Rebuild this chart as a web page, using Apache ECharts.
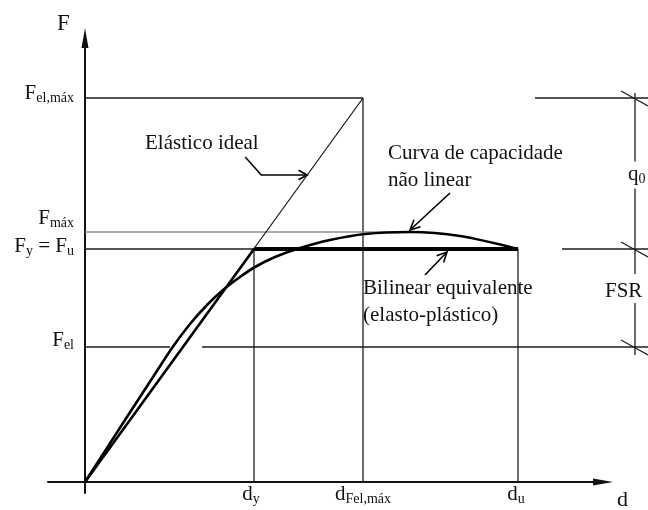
<!DOCTYPE html>
<html>
<head>
<meta charset="utf-8">
<script src="https://cdn.jsdelivr.net/npm/echarts@6/dist/echarts.min.js"></script>
<style>
  html, body { margin: 0; padding: 0; background: #fff; }
  #chart { width: 648px; height: 510px; }
</style>
</head>
<body>
<div id="chart"></div>
<script>
// Force levels on the F axis
const forceKeys   = ['Fel', 'Fy', 'Fmax', 'FelMax'];
const forceValues = [135, 233, 250, 384];
const forceLabels = ['{m|F}{s|el}', '{m|F}{s|y}{m| = F}{s|u}', '{m|F}{s|máx}', '{m|F}{s|el,máx}'];

// Displacement levels on the d axis
const dispKeys   = ['dy', 'dFelMax', 'du'];
const dispValues = [169, 278, 433];
const dispLabels = ['{m|d}{s|y}', '{m|d}{s|Fel,máx}', '{m|d}{s|u}'];

// Nonlinear capacity curve (d, F)
const curveDisp  = [0, 40, 70, 87, 105, 122, 138, 155, 170, 190, 215, 245, 280, 325, 375, 433];
const curveForce = [0, 62, 108, 134, 158, 177, 192, 205, 215, 225, 234, 242, 248, 250, 246, 233];

// Gap left in the F_el line where the two curves cross it
const felGap = [85, 117];
// Force level at which the "Elástico ideal" pointer touches its line
const elasticPointerF = 307;
// Displacement at which the "Bilinear" pointer touches the plateau
const bilinearPointerD = 362;

const F = Object.fromEntries(forceKeys.map((k, i) => [k, forceValues[i]]));
const D = Object.fromEntries(dispKeys.map((k, i) => [k, dispValues[i]]));
const peakIdx = curveForce.indexOf(Math.max(...curveForce));
const dPeak = curveDisp[peakIdx];

const SERIF = '"Liberation Serif", "DejaVu Serif", serif';
const INK = '#111';
const thin = { color: '#1c1c1c', width: 1.3 };

function seg(name, pts, lineStyle, z) {
  return { type: 'line', name, data: pts, symbol: 'none', lineStyle, silent: true,
           animation: false, z: z || 2, clip: false };
}

const chart = echarts.init(document.getElementById('chart'), null, { renderer: 'canvas' });

chart.setOption({
  backgroundColor: '#fff',
  animation: false,
  grid: { left: 48, right: 45, top: 38, bottom: 17 },
  xAxis: {
    type: 'value', min: -37, max: 518,
    axisLine: { onZero: true, symbol: ['none', 'triangle'], symbolSize: [7, 20],
                lineStyle: { color: INK, width: 2 } },
    axisTick: { show: false }, axisLabel: { show: false }, splitLine: { show: false }
  },
  yAxis: {
    type: 'value', min: -11, max: 444,
    axisLine: { onZero: true, symbol: ['none', 'triangle'], symbolSize: [7, 20],
                lineStyle: { color: INK, width: 2 } },
    axisTick: { show: false }, axisLabel: { show: false }, splitLine: { show: false }
  },
  series: [
    seg('FelMax level', [[0, F.FelMax], [D.dFelMax, F.FelMax]], thin),
    seg('dFelMax', [[D.dFelMax, 0], [D.dFelMax, F.FelMax]], thin),
    seg('Fmax level', [[0, F.Fmax], [dPeak, F.Fmax]], { color: '#8c8c8c', width: 1.7 }),
    seg('Fy level', [[0, F.Fy], [D.du, F.Fy]], thin),
    seg('dy', [[D.dy, 0], [D.dy, F.Fy]], thin),
    seg('du', [[D.du, 0], [D.du, F.Fy]], thin),
    seg('Fel level', [[0, F.Fel], [felGap[0], F.Fel]], thin),
    seg('Elástico ideal', [[0, 0], [D.dFelMax, F.FelMax]], { color: INK, width: 1.2 }, 3),
    seg('Bilinear equivalente', [[0, 0], [D.dy, F.Fy]], { color: '#000', width: 2.6 }, 4),
    seg('Patamar', [[D.dy, F.Fy], [D.du, F.Fy]], { color: '#000', width: 4 }, 4),
    {
      type: 'line', name: 'Curva de capacidade', smooth: 0.3, symbol: 'none',
      data: curveDisp.map((d, i) => [d, curveForce[i]]),
      lineStyle: { color: '#000', width: 2.6 }, silent: true, animation: false, z: 5
    }
  ]
});

const px = (d, f) => chart.convertToPixel({ gridIndex: 0 }, [d, f]);
const W = chart.getWidth();

const rich = {
  m: { fontSize: 21, fontFamily: SERIF, lineHeight: 24, fill: INK },
  s: { fontSize: 14, fontFamily: SERIF, lineHeight: 10, verticalAlign: 'bottom', fill: INK }
};

function text(x, y, str, opts) {
  return {
    type: 'text', x, y, silent: true,
    style: Object.assign({ text: str, fill: INK, fontFamily: SERIF, fontSize: 21,
                           align: 'left', verticalAlign: 'middle' }, opts || {})
  };
}
function line(x1, y1, x2, y2, w, c) {
  return { type: 'line', silent: true, shape: { x1, y1, x2, y2 },
           style: { stroke: c || '#1c1c1c', lineWidth: w || 1.3 } };
}
function poly(points, w) {
  return { type: 'polyline', silent: true, shape: { points },
           style: { stroke: '#000', lineWidth: w || 1.5, fill: null } };
}
// open chevron head at tip, pointing away from 'from'
function head(tip, from, len, spread) {
  const a = Math.atan2(tip[1] - from[1], tip[0] - from[0]);
  const l = len || 10, s = spread || 0.5;
  return poly([
    [tip[0] - l * Math.cos(a - s), tip[1] - l * Math.sin(a - s)],
    tip,
    [tip[0] - l * Math.cos(a + s), tip[1] - l * Math.sin(a + s)]
  ], 1.6);
}

const g = [];

// F-axis level labels
const forceNudge = [-7, -3, -14, -5];
forceValues.forEach((v, i) => {
  const y = px(0, v)[1] + forceNudge[i];
  g.push(text(74, y, forceLabels[i], { align: 'right', rich }));
});

// d-axis level labels
const dispNudge = [-3, 0, -2];
const yAxisPx = px(0, 0)[1];
dispValues.forEach((v, i) => {
  const x = px(v, 0)[0] + dispNudge[i];
  g.push(text(x, yAxisPx + 12, dispLabels[i], { align: 'center', rich }));
});

// Axis names
g.push(text(57, 24, 'F', { fontSize: 23 }));
g.push(text(617, 500, 'd', { fontSize: 22 }));

// Right part of the F_el line
const yEl = px(0, F.Fel)[1];
g.push(line(px(felGap[1], 0)[0], yEl, W, yEl));

// Dimension chain on the right (q0 and FSR)
const yTop = px(0, F.FelMax)[1], yMid = px(0, F.Fy)[1];
const xDim = 635;
const qY = (yTop + yMid) / 2 + 1;
const fsrY = (yMid + yEl) / 2 - 7;
g.push(line(535, yTop, W, yTop));
g.push(line(562, yMid, W, yMid));
g.push(line(xDim, yTop - 5, xDim, qY - 13));
g.push(line(xDim, qY + 14, xDim, fsrY - 17));
g.push(line(xDim, fsrY + 12, xDim, yEl + 8));
[yTop, yMid, yEl].forEach(y => g.push(line(xDim - 14, y - 7, xDim + 13, y + 8, 1.3)));
g.push(text(628, qY, '{m|q}{s|0}', { rich }));
g.push(text(605, fsrY, 'FSR'));

// "Elástico ideal" pointer
const eTip = px(elasticPointerF * D.dFelMax / F.FelMax, elasticPointerF);
const eBend = [eTip[0] - 46, eTip[1]];
const eTail = [eTip[0] - 62, eTip[1] - 18];
g.push(poly([eTail, eBend, eTip], 1.5));
g.push(head(eTip, eBend, 10, 0.5));
g.push(text(145, 143, 'Elástico ideal'));

// "Curva de capacidade não linear" pointer
const cTip = px(dPeak, F.Fmax); cTip[1] -= 2;
const cTail = [cTip[0] + 40, cTip[1] - 37];
g.push(poly([cTail, cTip], 1.6));
g.push(head(cTip, cTail, 11, 0.45));
g.push(text(388, 153, 'Curva de capacidade'));
g.push(text(388, 180, 'não linear'));

// "Bilinear equivalente" pointer
const bTip = px(bilinearPointerD, F.Fy); bTip[1] += 3;
const bTail = [bTip[0] - 22, bTip[1] + 23];
g.push(poly([bTail, bTip], 1.6));
g.push(head(bTip, bTail, 11, 0.45));
g.push(text(363, 288, 'Bilinear equivalente'));
g.push(text(363, 315, '(elasto-plástico)'));

chart.setOption({ graphic: { elements: g } });
</script>
</body>
</html>
